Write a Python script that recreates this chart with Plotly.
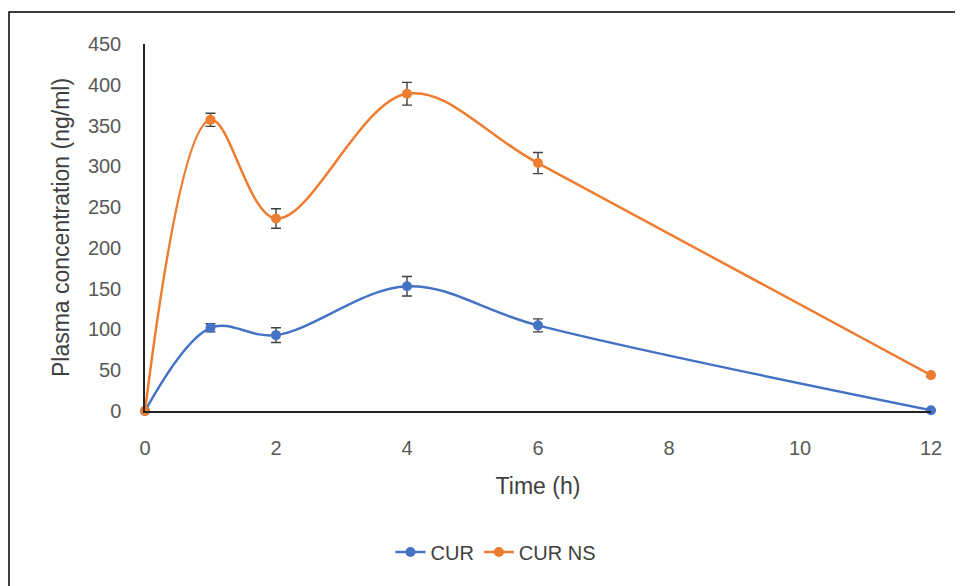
import plotly.graph_objects as go

time_h = [0, 1, 2, 4, 6, 12]
cur = [0, 102, 93, 153, 105, 1]
cur_err = [0, 5, 9, 12, 8, 0]
cur_ns = [0, 357, 236, 389, 304, 44]
cur_ns_err = [0, 8, 12, 14, 13, 2]
x_ticks = [0, 2, 4, 6, 8, 10, 12]
y_ticks = [0, 50, 100, 150, 200, 250, 300, 350, 400, 450]

font = "Liberation Sans, Arial, sans-serif"
blue = "#4472C4"
orange = "#ED7D31"

fig = go.Figure()
for name, vals, err, col in [("CUR", cur, cur_err, blue), ("CUR NS", cur_ns, cur_ns_err, orange)]:
    fig.add_trace(go.Scatter(
        x=time_h, y=vals, name=name, mode="lines+markers",
        line=dict(color=col, width=2.5, shape="spline", smoothing=1.0),
        marker=dict(color=col, size=10),
        error_y=dict(type="data", array=err, color="#404040", thickness=1.4, width=5),
        cliponaxis=False,
    ))

# plot area in screen px: x 145..931, y 44..411 (page has 8px body margin)
fig.update_layout(
    width=963, height=586,
    margin=dict(l=137, r=40, t=36, b=183),
    paper_bgcolor="white", plot_bgcolor="white",
    font=dict(family=font, size=20, color="#595959"),
    showlegend=True,
    legend=dict(orientation="h", x=(496 - 145) / 786, xanchor="center",
                y=(411 - 552) / 367, yanchor="middle",
                font=dict(size=20, color="#404040")),
    xaxis=dict(range=[0, 12], tickvals=x_ticks, showgrid=False, zeroline=False,
               showline=True, linecolor="#222", linewidth=1.5, ticks="",
               ticklabelstandoff=18,
               title=dict(text="Time (h)", font=dict(size=23, color="#404040"), standoff=20)),
    yaxis=dict(range=[0, 450], tickvals=y_ticks, showgrid=False, zeroline=False,
               showline=True, linecolor="#222", linewidth=1.5, ticks="",
               ticklabelstandoff=18,
               title=dict(text="Plasma concentration (ng/ml)", font=dict(size=23, color="#404040"), standoff=12)),
)

fig.add_shape(type="rect", xref="paper", yref="paper",
              x0=(9 - 145) / 786, x1=(962 - 145) / 786,
              y0=(411 - 600) / 367, y1=(411 - 12) / 367,
              line=dict(color="black", width=1.5), fillcolor="rgba(0,0,0,0)", layer="below")

fig.write_html("out.html")
